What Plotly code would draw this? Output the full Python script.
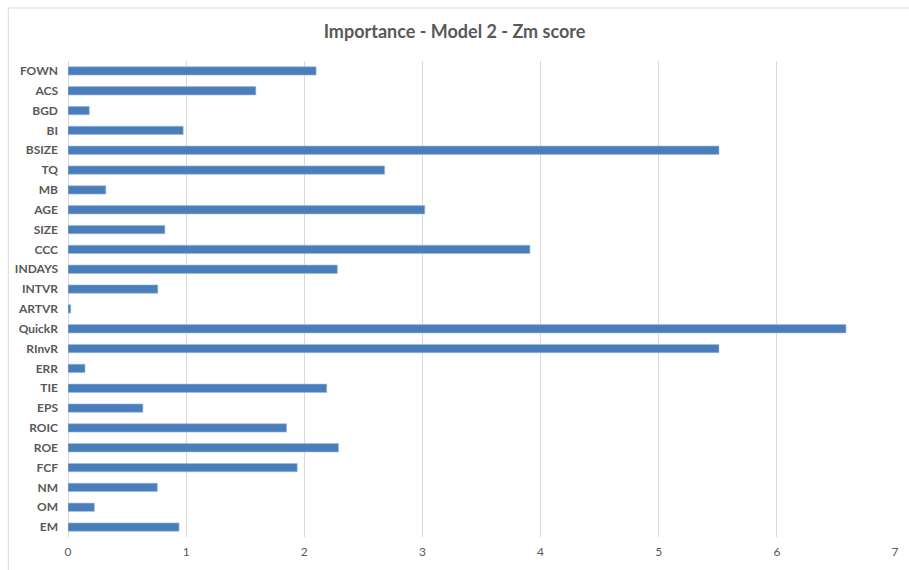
import plotly.graph_objects as go

categories = ["FOWN", "ACS", "BGD", "BI", "BSIZE", "TQ", "MB", "AGE", "SIZE", "CCC",
              "INDAYS", "INTVR", "ARTVR", "QuickR", "RInvR", "ERR", "TIE", "EPS",
              "ROIC", "ROE", "FCF", "NM", "OM", "EM"]
values = [2.10, 1.59, 0.18, 0.975, 5.51, 2.68, 0.32, 3.02, 0.82, 3.91,
          2.28, 0.76, 0.023, 6.585, 5.51, 0.144, 2.19, 0.634,
          1.85, 2.29, 1.94, 0.756, 0.223, 0.94]
x_ticks = [0, 1, 2, 3, 4, 5, 6, 7]

fig = go.Figure(go.Bar(
    x=values, y=categories, orientation="h",
    marker=dict(color="#4A7EBB", line=dict(color="#9DB9DE", width=0.6)),
    width=0.42,
))

fig.update_layout(
    width=909, height=570,
    margin=dict(l=68, r=10, t=61, b=33),
    paper_bgcolor="white", plot_bgcolor="white",
    font=dict(family="Lato, 'Open Sans', sans-serif", color="#595959"),
    title=dict(text="<b>Importance - Model 2 - Zm score</b>", x=0.5, xanchor="center",
               y=1 - 32 / 570, yanchor="middle",
               font=dict(size=18, color="#595959", family="Lato, 'Open Sans', sans-serif")),
    showlegend=False,
    shapes=[dict(type="rect", xref="paper", yref="paper",
                 x0=-60 / 831, x1=1 + 30 / 831, y0=-60 / 476, y1=1 + 53 / 476,
                 line=dict(color="#D9D9D9", width=1), fillcolor="rgba(0,0,0,0)", layer="below")],
)
fig.update_xaxes(range=[0, 7], tickvals=x_ticks, showgrid=True, gridcolor="#D9D9D9",
                 gridwidth=1, zeroline=True, zerolinecolor="#D9D9D9", zerolinewidth=1,
                 showline=False, ticks="", ticklabelstandoff=6,
                 tickfont=dict(size=12, color="#595959"))
fig.update_yaxes(autorange="reversed", showgrid=False, ticks="", showline=False,
                 ticklabelstandoff=9,
                 tickfont=dict(size=12, color="#595959"),
                 tickmode="array", tickvals=categories,
                 ticktext=[f"<b>{c}</b>" for c in categories])

fig.write_html("out.html")
